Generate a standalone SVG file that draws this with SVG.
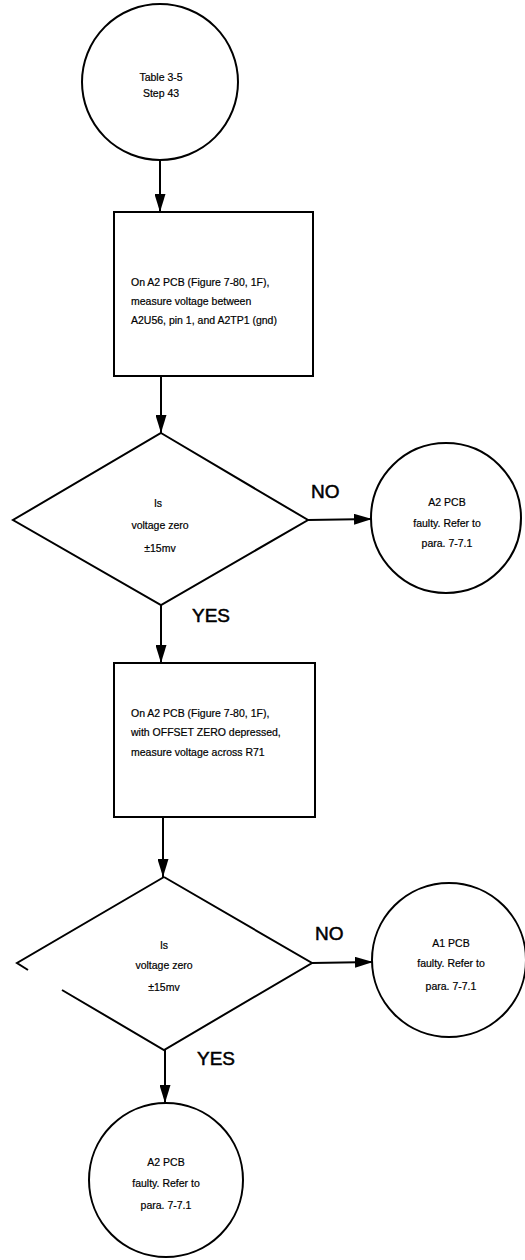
<svg xmlns="http://www.w3.org/2000/svg" width="525" height="1260" viewBox="0 0 525 1260">
<style>
.s{fill:none;stroke:#000;stroke-width:2}
.t{font-family:"Liberation Sans",Arial,sans-serif;font-size:10.5px;fill:#000;stroke:#000;stroke-width:0.2}
.c{text-anchor:middle}
.l{font-family:"Liberation Sans",Arial,sans-serif;font-size:19px;fill:#000;stroke:#000;stroke-width:0.5}
.ln{stroke:#000;stroke-width:2;fill:none}
</style>
<defs>
<marker id="ah" markerWidth="18" markerHeight="11" refX="18" refY="5.5" orient="auto" markerUnits="userSpaceOnUse" viewBox="0 0 18 11">
<path d="M0,0 L18,5.5 L0,11 Z" fill="#000"/>
</marker>
</defs>
<rect width="525" height="1260" fill="#fff"/>
<g id="connectors">
<line class="ln" x1="160" y1="160" x2="160" y2="212" marker-end="url(#ah)"/>
<line class="ln" x1="161" y1="376" x2="161" y2="433" marker-end="url(#ah)"/>
<line class="ln" x1="308" y1="520" x2="372" y2="519" marker-end="url(#ah)"/>
<line class="ln" x1="161" y1="605" x2="161" y2="663" marker-end="url(#ah)"/>
<line class="ln" x1="163" y1="817" x2="163" y2="877" marker-end="url(#ah)"/>
<line class="ln" x1="312" y1="963" x2="373" y2="962" marker-end="url(#ah)"/>
<line class="ln" x1="165" y1="1050" x2="165" y2="1103" marker-end="url(#ah)"/>
<text class="l" x="311" y="498">NO</text>
<text class="l" x="192" y="622">YES</text>
<text class="l" x="315" y="940">NO</text>
<text class="l" x="197" y="1065">YES</text>
</g>
<g id="start">
<circle class="s" cx="160" cy="82" r="78"/>
<text class="t c" x="161" y="81">Table 3-5</text>
<text class="t c" x="161" y="97">Step 43</text>
</g>
<g id="box1">
<rect class="s" x="114" y="212" width="199" height="164"/>
<text class="t" x="131" y="286">On A2 PCB (Figure 7-80, 1F),</text>
<text class="t" x="131" y="305">measure voltage between</text>
<text class="t" x="131" y="324">A2U56, pin 1, and A2TP1 (gnd)</text>
</g>
<g id="decision1">
<polygon class="s" points="161,433 308,520 161,605 13,520"/>
<text class="t c" x="158" y="507">Is</text>
<text class="t c" x="160" y="529">voltage zero</text>
<text class="t c" x="160" y="552">±15mv</text>
</g>
<g id="end1">
<circle class="s" cx="446" cy="518" r="75"/>
<text class="t c" x="447" y="506">A2 PCB</text>
<text class="t c" x="447" y="527">faulty.  Refer to</text>
<text class="t c" x="447" y="547">para. 7-7.1</text>
</g>
<g id="box2">
<rect class="s" x="114" y="663" width="201" height="154"/>
<text class="t" x="131" y="717">On A2 PCB (Figure 7-80, 1F),</text>
<text class="t" x="131" y="736">with OFFSET ZERO depressed,</text>
<text class="t" x="131" y="756">measure voltage across R71</text>
</g>
<g id="decision2">
<polyline class="s" points="164,877 312,963 164,1050 62,990"/>
<polyline class="s" points="164,877 17,963 28,970"/>
<text class="t c" x="164" y="949">Is</text>
<text class="t c" x="164" y="969">voltage zero</text>
<text class="t c" x="164" y="991">±15mv</text>
</g>
<g id="end2">
<circle class="s" cx="449" cy="960" r="77"/>
<text class="t c" x="451" y="947">A1 PCB</text>
<text class="t c" x="451" y="967">faulty.  Refer to</text>
<text class="t c" x="451" y="990">para. 7-7.1</text>
</g>
<g id="end3">
<circle class="s" cx="166" cy="1180" r="77"/>
<text class="t c" x="166" y="1166">A2 PCB</text>
<text class="t c" x="166" y="1187">faulty.  Refer to</text>
<text class="t c" x="166" y="1209">para. 7-7.1</text>
</g>
</svg>
